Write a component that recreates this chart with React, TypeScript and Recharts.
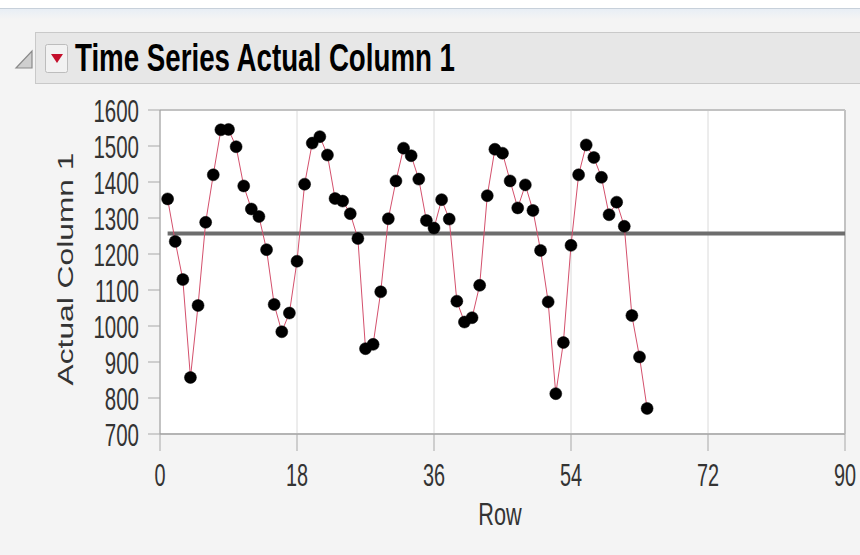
import { CartesianGrid, Line, LineChart, ReferenceLine, XAxis, YAxis } from "recharts";

// Actual Column 1, one value per row (rows 1..64)
const actualValues = [
  1353, 1235, 1129, 857, 1057, 1288, 1420, 1545, 1546, 1498,
  1389, 1325, 1304, 1212, 1060, 984, 1036, 1180, 1394, 1508,
  1526, 1475, 1354, 1347, 1312, 1243, 937, 949, 1095, 1298,
  1403, 1494, 1473, 1408, 1293, 1272, 1351, 1297, 1069, 1011,
  1023, 1113, 1362, 1491, 1480, 1403, 1328, 1392, 1321, 1210,
  1067, 812, 954, 1224, 1420, 1503, 1468, 1413, 1309, 1344,
  1277, 1029, 914, 771,
];
const meanValue = 1257;
const rowTicks = [0, 18, 36, 54, 72, 90];
const valueTicks = [700, 800, 900, 1000, 1100, 1200, 1300, 1400, 1500, 1600];

const data = actualValues.map((value, i) => ({ row: i + 1, value }));

const FONT = "'Liberation Sans', Arial, sans-serif";
const TEXT = "#333";

function RowTick({ x, y, payload }: any) {
  return (
    <g transform={`translate(${x},${y}) scale(0.62,1)`}>
      <text x={0} y={0} dy={33} textAnchor="middle" fontSize={32} fontFamily={FONT} fill={TEXT}>
        {payload.value}
      </text>
    </g>
  );
}

function ValueTick({ x, y, payload }: any) {
  return (
    <g transform={`translate(${x - 7},${y}) scale(0.64,1)`}>
      <text x={0} y={0} dy={11.5} textAnchor="end" fontSize={32} fontFamily={FONT} fill={TEXT}>
        {payload.value}
      </text>
    </g>
  );
}

export default function App() {
  return (
    <div style={{ position: "absolute", left: 0, top: 0, width: 860, height: 555, background: "#f4f4f4", overflow: "hidden" }}>
      {/* window strip at the top */}
      <div style={{ position: "absolute", left: 0, top: 0, width: 860, height: 8, background: "#fff", borderBottom: "1px solid #c7d0da" }} />
      <div style={{ position: "absolute", left: 0, top: 9, width: 860, height: 10, background: "linear-gradient(#e8eef5, #f4f4f4)" }} />

      {/* report header bar */}
      <div
        style={{
          position: "absolute",
          left: 35,
          top: 32,
          width: 830,
          height: 50,
          background: "#e7e7e7",
          border: "1px solid #c9c9c9",
        }}
      />

      <div style={{ position: "absolute", left: 0, top: 0 }}>
        <LineChart width={860} height={555} data={data} margin={{ top: 110, right: 15, bottom: 81, left: 100 }}>
          <CartesianGrid horizontal={false} stroke="#dadada" fill="#fff" />
          <XAxis
            dataKey="row"
            type="number"
            domain={[0, 90]}
            ticks={rowTicks}
            height={40}
            tickSize={17}
            tick={<RowTick />}
            tickLine={{ stroke: "#a8a8a8" }}
            axisLine={{ stroke: "#b4b4b4", strokeWidth: 2 }}
          />
          <YAxis
            type="number"
            domain={[700, 1600]}
            ticks={valueTicks}
            width={60}
            tickSize={12}
            tick={<ValueTick />}
            tickLine={{ stroke: "#a8a8a8" }}
            axisLine={{ stroke: "#9a9a9a" }}
          />
          <ReferenceLine y={1600} stroke="#c2c2c2" strokeWidth={2} />
          <ReferenceLine x={90} stroke="#c2c2c2" strokeWidth={2} />
          <ReferenceLine
            segment={[
              { x: 1, y: meanValue },
              { x: 90, y: meanValue },
            ]}
            stroke="#6d6d6d"
            strokeWidth={4}
          />
          <Line
            type="linear"
            dataKey="value"
            stroke="#d4506c"
            strokeWidth={1}
            dot={{ r: 6, fill: "#000", stroke: "#000", strokeWidth: 0.5 }}
            activeDot={false}
            isAnimationActive={false}
          />
        </LineChart>
      </div>

      <svg width={860} height={555} style={{ position: "absolute", left: 0, top: 0, pointerEvents: "none" }}>
        {/* disclosure triangle */}
        <polygon points="32,51 32,68 16,68" fill="#cfcfcf" stroke="#8a8a8a" strokeWidth={1.2} />
        {/* popup menu button */}
        <rect x={45.5} y={44.5} width={22} height={28} rx={2} fill="#f2f2f2" stroke="#bdbdbd" />
        <polygon points="51,54 63,54 57,63" fill="#c4102c" />
        <text x={75} y={71} fontSize={39} fontWeight="bold" fontFamily={FONT} fill="#000" textLength={380} lengthAdjust="spacingAndGlyphs">
          Time Series Actual Column 1
        </text>
        <g transform="translate(73,269) rotate(-90) scale(1,0.7)">
          <text x={0} y={0} textAnchor="middle" fontSize={32} fontFamily={FONT} fill={TEXT} textLength={233} lengthAdjust="spacingAndGlyphs">
            Actual Column 1
          </text>
        </g>
        <g transform="translate(500,525) scale(0.7,1)">
          <text x={0} y={0} textAnchor="middle" fontSize={31} fontFamily={FONT} fill={TEXT}>
            Row
          </text>
        </g>
      </svg>
    </div>
  );
}
